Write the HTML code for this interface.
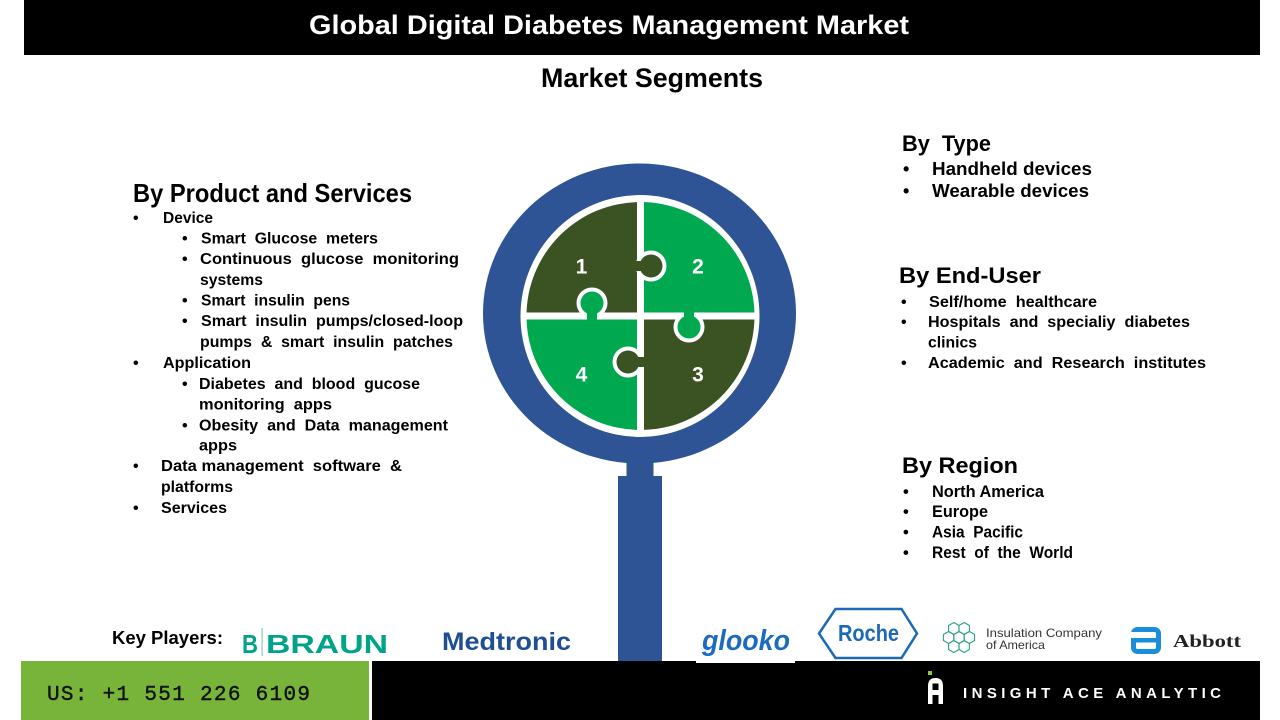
<!DOCTYPE html>
<html>
<head>
<meta charset="utf-8">
<style>
html,body{margin:0;padding:0;background:#fff;}
svg{display:block;}
text{white-space:pre;}
</style>
</head>
<body>
<svg width="1280" height="720" viewBox="0 0 1280 720" xmlns="http://www.w3.org/2000/svg" font-family="'Liberation Sans', Arial, sans-serif" font-weight="bold">
<defs>
<clipPath id="dc"><circle cx="640.5" cy="316" r="114"/></clipPath>
</defs>
<rect width="1280" height="720" fill="#fff"/>

<!-- Header -->
<rect x="24" y="0" width="1236" height="55" fill="#000"/>
<text x="309" y="34" font-size="26.5" fill="#fff" textLength="600" lengthAdjust="spacingAndGlyphs">Global Digital Diabetes Management Market</text>
<text x="541" y="87" font-size="26.5" fill="#000" textLength="222" lengthAdjust="spacingAndGlyphs">Market Segments</text>

<!-- Magnifier handle -->
<rect x="618" y="476" width="44" height="185" fill="#2e5496"/>
<rect x="626.5" y="450" width="27" height="28" fill="#2e5496"/>
<!-- Ring -->
<ellipse cx="639.5" cy="313.5" rx="156.5" ry="150" fill="#2e5496"/>
<ellipse cx="640" cy="316" rx="119.5" ry="121" fill="#fff"/>

<!-- Puzzle -->
<g clip-path="url(#dc)">
<rect x="520" y="196" width="120.5" height="120" fill="#3b5323"/>
<rect x="640.5" y="196" width="120" height="120" fill="#00a94f"/>
<rect x="640.5" y="316" width="120" height="120" fill="#3b5323"/>
<rect x="520" y="316" width="120.5" height="120" fill="#00a94f"/>
</g>
<rect x="637" y="198" width="7" height="236" fill="#fff"/>
<rect x="522" y="312.5" width="237" height="7" fill="#fff"/>

<circle cx="651" cy="266" r="15.5" fill="#fff"/>
<circle cx="592" cy="303" r="15.5" fill="#fff"/>
<circle cx="689" cy="327" r="15.5" fill="#fff"/>
<circle cx="628" cy="362" r="15.5" fill="#fff"/>

<circle cx="651" cy="266" r="11.5" fill="#3b5323"/>
<rect x="634" y="261" width="12" height="10" fill="#3b5323"/>
<circle cx="592" cy="303" r="11.5" fill="#00a94f"/>
<rect x="587" y="309" width="10" height="13" fill="#00a94f"/>
<circle cx="689" cy="327" r="11.5" fill="#00a94f"/>
<rect x="684" y="310" width="10" height="13" fill="#00a94f"/>
<circle cx="628" cy="362" r="11.5" fill="#3b5323"/>
<rect x="634" y="357" width="12" height="10" fill="#3b5323"/>

<g fill="#fff" font-size="21" text-anchor="middle">
<text x="581.5" y="273.5">1</text>
<text x="698" y="273.5">2</text>
<text x="698" y="381.5">3</text>
<text x="581.5" y="381.5">4</text>
</g>

<!-- Left column -->
<g fill="#000">
<text x="133" y="202" font-size="26" textLength="279" lengthAdjust="spacingAndGlyphs">By Product and Services</text>
<g font-size="16">
<text x="133" y="223">•</text>
<text x="163" y="223" textLength="50" lengthAdjust="spacingAndGlyphs">Device</text>
<text x="182" y="243.5">•</text>
<text x="201" y="243.5" textLength="177" lengthAdjust="spacingAndGlyphs">Smart  Glucose  meters</text>
<text x="182" y="264">•</text>
<text x="200" y="264" textLength="259" lengthAdjust="spacingAndGlyphs">Continuous  glucose  monitoring</text>
<text x="200" y="285" textLength="63" lengthAdjust="spacingAndGlyphs">systems</text>
<text x="182" y="305.5">•</text>
<text x="201" y="305.5" textLength="149" lengthAdjust="spacingAndGlyphs">Smart  insulin  pens</text>
<text x="182" y="326">•</text>
<text x="201" y="326" textLength="262" lengthAdjust="spacingAndGlyphs">Smart  insulin  pumps/closed-loop</text>
<text x="200" y="347" textLength="253" lengthAdjust="spacingAndGlyphs">pumps  &amp;  smart  insulin  patches</text>
<text x="133" y="368">•</text>
<text x="163" y="368" textLength="88" lengthAdjust="spacingAndGlyphs">Application</text>
<text x="182" y="389">•</text>
<text x="199" y="389" textLength="221" lengthAdjust="spacingAndGlyphs">Diabetes  and  blood  gucose</text>
<text x="199" y="409.5" textLength="133" lengthAdjust="spacingAndGlyphs">monitoring  apps</text>
<text x="182" y="430.5">•</text>
<text x="199" y="430.5" textLength="249" lengthAdjust="spacingAndGlyphs">Obesity  and  Data  management</text>
<text x="199" y="450.5" textLength="38" lengthAdjust="spacingAndGlyphs">apps</text>
<text x="133" y="471">•</text>
<text x="161" y="471" textLength="241" lengthAdjust="spacingAndGlyphs">Data management  software  &amp;</text>
<text x="161" y="492" textLength="72" lengthAdjust="spacingAndGlyphs">platforms</text>
<text x="133" y="513">•</text>
<text x="161" y="513" textLength="66" lengthAdjust="spacingAndGlyphs">Services</text>
</g>
</g>

<!-- Right column -->
<g fill="#000">
<text x="902" y="151" font-size="22.5" textLength="89" lengthAdjust="spacingAndGlyphs">By  Type</text>
<text x="903" y="175" font-size="18">•</text>
<text x="932" y="175" font-size="18" textLength="160" lengthAdjust="spacingAndGlyphs">Handheld devices</text>
<text x="903" y="197" font-size="18">•</text>
<text x="932" y="197" font-size="18" textLength="157" lengthAdjust="spacingAndGlyphs">Wearable devices</text>

<text x="899" y="283" font-size="22.5" textLength="142" lengthAdjust="spacingAndGlyphs">By End-User</text>
<g font-size="16">
<text x="901" y="307">•</text>
<text x="929" y="307" textLength="168" lengthAdjust="spacingAndGlyphs">Self/home  healthcare</text>
<text x="901" y="327">•</text>
<text x="928" y="327" textLength="262" lengthAdjust="spacingAndGlyphs">Hospitals  and  specialiy  diabetes</text>
<text x="928" y="347.5" textLength="49" lengthAdjust="spacingAndGlyphs">clinics</text>
<text x="901" y="368">•</text>
<text x="928" y="368" textLength="278" lengthAdjust="spacingAndGlyphs">Academic  and  Research  institutes</text>
</g>

<text x="902" y="473" font-size="22.5" textLength="116" lengthAdjust="spacingAndGlyphs">By Region</text>
<g font-size="16.5">
<text x="903" y="497">•</text>
<text x="932" y="497" textLength="112" lengthAdjust="spacingAndGlyphs">North America</text>
<text x="903" y="517">•</text>
<text x="932" y="517" textLength="56" lengthAdjust="spacingAndGlyphs">Europe</text>
<text x="903" y="537.5">•</text>
<text x="932" y="537.5" textLength="91" lengthAdjust="spacingAndGlyphs">Asia  Pacific</text>
<text x="903" y="558">•</text>
<text x="932" y="558" textLength="141" lengthAdjust="spacingAndGlyphs">Rest  of  the  World</text>
</g>
</g>

<!-- Key players -->
<text x="112" y="644" font-size="18" fill="#000" textLength="111" lengthAdjust="spacingAndGlyphs">Key Players:</text>
<text x="242" y="653" font-size="26" fill="#00a38a" textLength="16" lengthAdjust="spacingAndGlyphs">B</text>
<rect x="261.5" y="628" width="1.2" height="28" fill="#7fcfc2"/>
<text x="266" y="653" font-size="26" fill="#00a38a" textLength="122" lengthAdjust="spacingAndGlyphs">BRAUN</text>
<text x="442" y="650" font-size="25" fill="#1f4e93" textLength="129" lengthAdjust="spacingAndGlyphs">Medtronic</text>
<text x="702" y="650" font-size="29" font-style="italic" fill="#1b6cc0" textLength="88" lengthAdjust="spacingAndGlyphs">glooko</text>

<!-- Roche -->
<polygon points="819,633.5 835.5,609 901.5,609 917,633.5 901.5,658 835.5,658" fill="#fff" stroke="#1c6ab6" stroke-width="2.5"/>
<text x="838" y="641" font-size="23" fill="#1c6ab6" textLength="61" lengthAdjust="spacingAndGlyphs">Roche</text>

<!-- Insulation hexes -->
<g fill="none" stroke="#2aa384" stroke-width="1.1">
<polygon points="953.8,622.5 959,625.5 959,631.5 953.8,634.5 948.6,631.5 948.6,625.5"/>
<polygon points="964.2,622.5 969.4,625.5 969.4,631.5 964.2,634.5 959,631.5 959,625.5"/>
<polygon points="948.6,631.5 953.8,634.5 953.8,640.5 948.6,643.5 943.4,640.5 943.4,634.5"/>
<polygon points="959,631.5 964.2,634.5 964.2,640.5 959,643.5 953.8,640.5 953.8,634.5"/>
<polygon points="969.4,631.5 974.6,634.5 974.6,640.5 969.4,643.5 964.2,640.5 964.2,634.5"/>
<polygon points="953.8,640.5 959,643.5 959,649.5 953.8,652.5 948.6,649.5 948.6,643.5"/>
<polygon points="964.2,640.5 969.4,643.5 969.4,649.5 964.2,652.5 959,649.5 959,643.5"/>
</g>
<text x="986" y="637" font-size="12" font-weight="normal" fill="#333" textLength="116" lengthAdjust="spacingAndGlyphs">Insulation Company</text>
<text x="986" y="649" font-size="12" font-weight="normal" fill="#333" textLength="59" lengthAdjust="spacingAndGlyphs">of America</text>

<!-- Abbott -->
<rect x="1133.5" y="629.5" width="25" height="22" rx="4" fill="none" stroke="#1a8ed9" stroke-width="5"/>
<rect x="1129" y="632" width="8" height="6" fill="#fff"/>
<rect x="1131" y="638" width="25" height="4.5" fill="#1a8ed9"/>
<text x="1173" y="647" font-size="18" font-family="'Liberation Serif', serif" fill="#222" textLength="68" lengthAdjust="spacingAndGlyphs">Abbott</text>

<!-- Bottom bars -->
<rect x="21" y="661" width="348" height="59" fill="#78b43a"/>
<rect x="372" y="661" width="888" height="59" fill="#000"/>
<rect x="696" y="661" width="99" height="2" fill="#fff"/>
<text x="47" y="700" font-size="21" font-family="'Liberation Mono', monospace" font-weight="normal" fill="#111" stroke="#111" stroke-width="0.4" textLength="263" lengthAdjust="spacing">US: +1 551 226 6109</text>

<!-- Insight logo -->
<rect x="928" y="671" width="4" height="4" fill="#8dc63f"/>
<path d="M928,704 V686 Q928,678 935.5,678 Q943,678 943,686 V704 H938.5 V695 H932.5 V704 Z" fill="#fff"/>
<rect x="932.5" y="683.5" width="6" height="6.5" fill="#000"/>
<text x="963" y="698" font-size="15" fill="#fff" textLength="258" lengthAdjust="spacing">INSIGHT ACE ANALYTIC</text>
</svg>
</body>
</html>
